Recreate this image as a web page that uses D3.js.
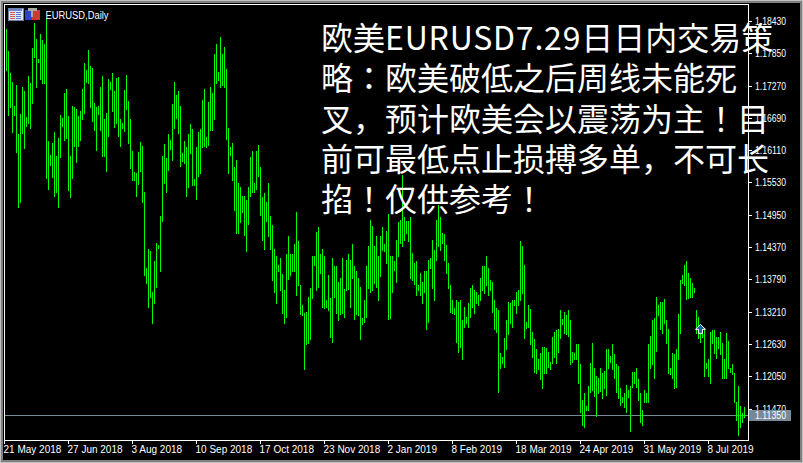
<!DOCTYPE html>
<html><head><meta charset="utf-8">
<style>
body { margin: 0; background: #c0c0c0; }
svg { display: block; }
.bar { fill: #00ff00; }
.lbl { fill: #fff; font-family: "Liberation Sans", Arial, sans-serif; font-size: 10px; }
</style>
<script src="https://cdn.jsdelivr.net/npm/d3@7/dist/d3.min.js"></script>
</head><body>
<div id="chart"></div>
<script>
// daily highs / lows, EURUSD, one entry per bar starting 21 May 2018
var highs = [
  1.1832,1.1830,1.1790,1.1751,1.1735,1.1692,1.1729,1.1641,1.1677,1.1726, // 0
  1.1719,1.1672,1.1746,1.1733,1.1796,1.1841,1.1812,1.1776,1.1821,1.1810, // 10
  1.1803,1.1850,1.1629,1.1604,1.1625,1.1645,1.1602,1.1634,1.1675,1.1670, // 20
  1.1715,1.1722,1.1674,1.1602,1.1692,1.1690,1.1685,1.1674,1.1683,1.1722, // 30
  1.1769,1.1755,1.1792,1.1763,1.1760,1.1697,1.1690,1.1692,1.1726,1.1746, // 40
  1.1667,1.1679,1.1740,1.1735,1.1751,1.1719,1.1742,1.1744,1.1668,1.1661, // 50
  1.1720,1.1747,1.1701,1.1668,1.1611,1.1573,1.1571,1.1609,1.1627,1.1620, // 60
  1.1537,1.1401,1.1435,1.1431,1.1358,1.1412,1.1446,1.1442,1.1494,1.1602, // 70
  1.1623,1.1598,1.1641,1.1631,1.1695,1.1735,1.1711,1.1719,1.1692,1.1606, // 80
  1.1629,1.1618,1.1641,1.1659,1.1650,1.1561,1.1618,1.1645,1.1650,1.1702, // 90
  1.1722,1.1636,1.1699,1.1726,1.1715,1.1785,1.1803,1.1753,1.1816,1.1785, // 100
  1.1798,1.1758,1.1652,1.1618,1.1625,1.1582,1.1595,1.1553,1.1545,1.1530, // 110
  1.1530,1.1523,1.1546,1.1600,1.1611,1.1553,1.1611,1.1622,1.1582,1.1528, // 120
  1.1535,1.1519,1.1553,1.1494,1.1478,1.1435,1.1422,1.1406,1.1419,1.1390, // 130
  1.1361,1.1426,1.1458,1.1426,1.1426,1.1444,1.1501,1.1449,1.1370,1.1333, // 140
  1.1320,1.1322,1.1349,1.1365,1.1422,1.1422,1.1465,1.1474,1.1426,1.1435, // 150
  1.1422,1.1343,1.1387,1.1347,1.1419,1.1403,1.1403,1.1376,1.1383,1.1419, // 160
  1.1363,1.1415,1.1426,1.1415,1.1444,1.1403,1.1395,1.1383,1.1367,1.1311, // 170
  1.1343,1.1403,1.1440,1.1487,1.1476,1.1439,1.1457,1.1421,1.1457,1.1474, // 180
  1.1444,1.1467,1.1498,1.1421,1.1421,1.1413,1.1451,1.1483,1.1487,1.1568, // 190
  1.1491,1.1485,1.1485,1.1492,1.1428,1.1410,1.1412,1.1370,1.1392,1.1376, // 200
  1.1394,1.1394,1.1415,1.1419,1.1451,1.1433,1.1487,1.1514,1.1491,1.1464, // 210
  1.1462,1.1442,1.1410,1.1369,1.1343,1.1329,1.1343,1.1340,1.1343,1.1307, // 220
  1.1331,1.1313,1.1338,1.1365,1.1370,1.1361,1.1358,1.1352,1.1383,1.1404, // 230
  1.1404,1.1421,1.1401,1.1379,1.1376,1.1343,1.1329,1.1325,1.1248,1.1241, // 240
  1.1275,1.1307,1.1340,1.1338,1.1343,1.1343,1.1358,1.1360,1.1449,1.1439, // 250
  1.1406,1.1304,1.1333,1.1327,1.1286,1.1272,1.1254,1.1236,1.1248,1.1259, // 260
  1.1259,1.1257,1.1250,1.1232,1.1277,1.1286,1.1288,1.1290,1.1325,1.1309, // 270
  1.1322,1.1316,1.1325,1.1306,1.1250,1.1248,1.1264,1.1263,1.1227,1.1164, // 280
  1.1176,1.1153,1.1189,1.1230,1.1266,1.1221,1.1207,1.1202,1.1221,1.1212, // 290
  1.1216,1.1254,1.1255,1.1243,1.1264,1.1246,1.1227,1.1225,1.1185,1.1169, // 300
  1.1176,1.1191,1.1182,1.1189,1.1214,1.1214,1.1220,1.1200,1.1175,1.1146, // 310
  1.1182,1.1176,1.1264,1.1279,1.1307,1.1311,1.1349,1.1333,1.1340,1.1340, // 320
  1.1345,1.1306,1.1291,1.1220,1.1248,1.1245,1.1255,1.1318,1.1379,1.1387, // 330
  1.1406,1.1413,1.1392,1.1383,1.1374,1.1365,1.1324,1.1313,1.1295,1.1288, // 340
  1.1288,1.1230,1.1236,1.1286,1.1288,1.1288,1.1277,1.1277,1.1286,1.1266, // 350
  1.1236,1.1284,1.1270,1.1221,1.1227,1.1211,1.1159,1.1189,1.1153,1.1139, // 360
  1.1150                                                                 // 370
];
var lows = [
  1.1774,1.1756,1.1675,1.1690,1.1645,1.1675,1.1609,1.1510,1.1519,1.1643,
  1.1616,1.1656,1.1661,1.1652,1.1697,1.1780,1.1726,1.1771,1.1740,1.1733,
  1.1733,1.1562,1.1543,1.1586,1.1564,1.1530,1.1536,1.1509,1.1600,1.1656,
  1.1631,1.1634,1.1541,1.1527,1.1562,1.1620,1.1591,1.1620,1.1631,1.1668,
  1.1679,1.1735,1.1733,1.1690,1.1665,1.1649,1.1613,1.1677,1.1649,1.1602,
  1.1602,1.1575,1.1638,1.1722,1.1683,1.1654,1.1661,1.1638,1.1620,1.1652,
  1.1647,1.1685,1.1625,1.1580,1.1559,1.1559,1.1530,1.1552,1.1575,1.1519,
  1.1388,1.1374,1.1331,1.1349,1.1302,1.1338,1.1367,1.1437,1.1394,1.1485,
  1.1553,1.1536,1.1577,1.1614,1.1595,1.1652,1.1670,1.1643,1.1584,1.1593,
  1.1589,1.1530,1.1545,1.1607,1.1550,1.1550,1.1525,1.1566,1.1571,1.1618,
  1.1620,1.1618,1.1622,1.1649,1.1649,1.1668,1.1733,1.1738,1.1726,1.1729,
  1.1726,1.1632,1.1570,1.1604,1.1559,1.1505,1.1464,1.1464,1.1483,1.1500,
  1.1460,1.1431,1.1480,1.1530,1.1536,1.1536,1.1543,1.1566,1.1496,1.1451,
  1.1435,1.1485,1.1457,1.1435,1.1379,1.1358,1.1338,1.1395,1.1361,1.1320,
  1.1302,1.1313,1.1381,1.1387,1.1395,1.1395,1.1352,1.1370,1.1317,1.1315,
  1.1218,1.1263,1.1266,1.1272,1.1347,1.1406,1.1361,1.1367,1.1392,1.1331,
  1.1329,1.1331,1.1325,1.1277,1.1268,1.1349,1.1320,1.1306,1.1317,1.1320,
  1.1313,1.1361,1.1363,1.1331,1.1383,1.1308,1.1317,1.1315,1.1272,1.1299,
  1.1304,1.1313,1.1365,1.1358,1.1361,1.1374,1.1367,1.1343,1.1385,1.1433,
  1.1430,1.1410,1.1309,1.1311,1.1358,1.1397,1.1376,1.1421,1.1446,1.1439,
  1.1451,1.1464,1.1448,1.1383,1.1379,1.1372,1.1352,1.1361,1.1352,1.1338,
  1.1358,1.1290,1.1304,1.1401,1.1365,1.1343,1.1415,1.1439,1.1433,1.1446,
  1.1415,1.1392,1.1365,1.1322,1.1320,1.1317,1.1268,1.1250,1.1259,1.1236,
  1.1295,1.1302,1.1295,1.1313,1.1331,1.1320,1.1338,1.1334,1.1343,1.1361,
  1.1356,1.1370,1.1352,1.1361,1.1322,1.1290,1.1286,1.1178,1.1221,1.1230,
  1.1223,1.1254,1.1281,1.1302,1.1295,1.1333,1.1320,1.1334,1.1343,1.1356,
  1.1275,1.1293,1.1295,1.1263,1.1241,1.1214,1.1212,1.1218,1.1200,1.1184,
  1.1212,1.1212,1.1223,1.1218,1.1230,1.1241,1.1230,1.1250,1.1275,1.1299,
  1.1284,1.1281,1.1279,1.1227,1.1232,1.1237,1.1236,1.1194,1.1141,1.1119,
  1.1115,1.1146,1.1146,1.1178,1.1182,1.1171,1.1135,1.1176,1.1180,1.1167,
  1.1184,1.1173,1.1220,1.1232,1.1218,1.1202,1.1178,1.1166,1.1155,1.1160,
  1.1151,1.1142,1.1169,1.1108,1.1187,1.1194,1.1187,1.1164,1.1124,1.1119,
  1.1160,1.1160,1.1160,1.1220,1.1227,1.1203,1.1252,1.1315,1.1291,1.1284,
  1.1302,1.1266,1.1212,1.1209,1.1203,1.1184,1.1187,1.1236,1.1284,1.1374,
  1.1370,1.1345,1.1347,1.1349,1.1349,1.1358,1.1284,1.1275,1.1268,1.1277,
  1.1207,1.1221,1.1207,1.1194,1.1266,1.1248,1.1239,1.1257,1.1246,1.1203,
  1.1202,1.1203,1.1221,1.1214,1.1209,1.1159,1.1128,1.1101,1.1114,1.1124,
  1.1132
];

var priceTicks = [1.18430, 1.17850, 1.17270, 1.16690, 1.16110, 1.15530, 1.14950,
                  1.14370, 1.13790, 1.13210, 1.12630, 1.12050, 1.11470];
var dateTicks = ["21 May 2018", "27 Jun 2018", "3 Aug 2018", "10 Sep 2018", "17 Oct 2018",
                 "23 Nov 2018", "2 Jan 2019", "8 Feb 2019", "18 Mar 2019", "24 Apr 2019",
                 "31 May 2019", "8 Jul 2019"];
var holidays = ["2018-12-25", "2019-01-01"]; // no bars on these days
var bidPrice = 1.11350;
var buyArrow = {bar: 348, price: 1.1290};
var noteLines = ["欧美EURUSD7.29日日内交易策",
                 "略：欧美破低之后周线未能死",
                 "叉，预计欧美会以震荡为主！目",
                 "前可最低点止损搏多单，不可长",
                 "掐！仅供参考！"];

// bar dates: broker has Sunday bars, so every day but Saturday
var fmt = d3.timeFormat("%-d %b %Y"), key = d3.timeFormat("%Y-%m-%d");
var dates = [];
for (var d = new Date(2018, 4, 21); dates.length < highs.length; d = d3.timeDay.offset(d, 1)) {
  if (d.getDay() == 6 || holidays.indexOf(key(d)) >= 0) continue;
  dates.push(d);
}

var width = 803, height = 463;
var plot = {left: 4, top: 4, right: 748, bottom: 440};

var x = d3.scaleLinear().domain([0, highs.length - 1]).range([4, 744]);
var y = d3.scaleLinear().domain([priceTicks[0], priceTicks[priceTicks.length - 1]]).range([21.5, 409]);

var svg = d3.select("#chart").append("svg")
    .attr("width", width).attr("height", height)
    .attr("shape-rendering", "crispEdges");

// window edge + black chart background
svg.append("rect").attr("x", 1).attr("y", 1).attr("width", width - 2).attr("height", height - 2).attr("fill", "#808080");
svg.append("rect").attr("x", 3).attr("y", 3).attr("width", width - 6).attr("height", height - 6).attr("fill", "#000");

svg.append("clipPath").attr("id", "clip").append("rect")
    .attr("x", plot.left + 1).attr("y", plot.top + 1)
    .attr("width", plot.right - plot.left - 1).attr("height", plot.bottom - plot.top - 1);

var g = svg.append("g").attr("clip-path", "url(#clip)");

// bid line
g.append("line")
    .attr("x1", plot.left).attr("x2", plot.right)
    .attr("y1", Math.round(y(bidPrice)) - 0.5).attr("y2", Math.round(y(bidPrice)) - 0.5)
    .attr("stroke", "#778899");

// bars (at this zoom MT4 draws just the high-low line)
g.selectAll(".bar")
  .data(highs)
  .enter().append("rect")
    .attr("class", "bar")
    .attr("x", function(d, i) { return x(i); })
    .attr("y", function(d) { return Math.round(y(d)); })
    .attr("width", 1)
    .attr("height", function(d, i) { return Math.max(1, Math.round(y(lows[i])) - Math.round(y(d)) + 1); });

// frame
svg.append("rect")
    .attr("x", plot.left + 0.5).attr("y", plot.top + 0.5)
    .attr("width", plot.right - plot.left).attr("height", plot.bottom - plot.top)
    .attr("fill", "none").attr("stroke", "#fff");

// price axis
var pa = svg.append("g");
pa.selectAll("line")
  .data(priceTicks)
  .enter().append("line")
    .attr("x1", plot.right).attr("x2", plot.right + 4)
    .attr("y1", function(d) { return Math.floor(y(d)) + 0.5; })
    .attr("y2", function(d) { return Math.floor(y(d)) + 0.5; })
    .attr("stroke", "#fff");
pa.selectAll("text")
  .data(priceTicks)
  .enter().append("text")
    .attr("class", "lbl")
    .attr("x", plot.right + 7)
    .attr("y", function(d) { return Math.floor(y(d)) + 4; })
    .attr("textLength", 31).attr("lengthAdjust", "spacingAndGlyphs")
    .text(function(d) { return d.toFixed(5); });

// time axis
var ta = svg.append("g");
var tickIdx = dateTicks.map(function(s) { return dates.findIndex(function(d) { return fmt(d) == s; }); });
ta.selectAll("line")
  .data(tickIdx)
  .enter().append("line")
    .attr("x1", function(d) { return x(d) + 0.5; })
    .attr("x2", function(d) { return x(d) + 0.5; })
    .attr("y1", plot.bottom).attr("y2", plot.bottom + 4)
    .attr("stroke", "#fff");
ta.selectAll("text")
  .data(dateTicks)
  .enter().append("text")
    .attr("class", "lbl")
    .attr("x", function(d, i) { return x(tickIdx[i]) - 0.5; })
    .attr("y", plot.bottom + 13)
    .attr("font-size", "9.5px")
    .text(function(d) { return d; });

// bid price box on the axis
var by = Math.round(y(bidPrice)) - 1;
svg.append("rect")
    .attr("x", plot.right + 1).attr("y", by - 5)
    .attr("width", 42).attr("height", 11)
    .attr("fill", "#778899");
svg.append("text")
    .attr("class", "lbl")
    .attr("x", plot.right + 7).attr("y", by + 4)
    .attr("textLength", 31).attr("lengthAdjust", "spacingAndGlyphs")
    .text(bidPrice.toFixed(5));

// buy arrow
var ax = x(buyArrow.bar) + 0.5, ay = y(buyArrow.price);
svg.append("path")
    .attr("d", "M" + ax + "," + (ay - 5) + " L" + (ax + 5) + "," + (ay) + " L" + (ax + 2) + "," + ay +
               " L" + (ax + 2) + "," + (ay + 4) + " L" + (ax - 2) + "," + (ay + 4) +
               " L" + (ax - 2) + "," + ay + " L" + (ax - 5) + "," + ay + "Z")
    .attr("fill", "#1f5fa8").attr("stroke", "#fff").attr("shape-rendering", "auto");

// title with the two toolbar icons
var ic = svg.append("g");
ic.append("rect").attr("x", 8).attr("y", 8).attr("width", 15).attr("height", 12).attr("fill", "#dfe4f2").attr("stroke", "#7080a8");
ic.append("rect").attr("x", 9).attr("y", 9).attr("width", 13).attr("height", 2).attr("fill", "#6f86c8");
[12, 14, 16, 18].forEach(function(r) {
  ic.append("rect").attr("x", 10).attr("y", r).attr("width", 5).attr("height", 1).attr("fill", "#e05a4a");
  ic.append("rect").attr("x", 16).attr("y", r).attr("width", 5).attr("height", 1).attr("fill", "#5a78d8");
});
ic.append("rect").attr("x", 25).attr("y", 10).attr("width", 7).attr("height", 10).attr("fill", "#2a46c8");
ic.append("rect").attr("x", 32).attr("y", 10).attr("width", 8).attr("height", 10).attr("fill", "#c83a32");
ic.append("rect").attr("x", 28).attr("y", 8).attr("width", 9).attr("height", 3).attr("fill", "#a8a8a8");
ic.append("rect").attr("x", 31).attr("y", 11).attr("width", 2).attr("height", 6).attr("fill", "#a8a8a8");
svg.append("text")
    .attr("class", "lbl")
    .attr("x", 45.5).attr("y", 19)
    .attr("textLength", 63).attr("lengthAdjust", "spacingAndGlyphs")
    .text("EURUSD,Daily");

// comment text over the chart (JP forms centre the colon and "!" like the original)
var note = svg.append("g")
    .attr("font-family", '"Noto Sans CJK JP", "Noto Sans CJK SC", sans-serif')
    .attr("font-size", 32)
    .attr("fill", "#fff")
  .selectAll("text")
  .data(noteLines)
  .enter().append("text")
    .attr("x", 321)
    .attr("y", function(d, i) { return 50 + i * 40.3; });
note.selectAll("tspan")
  .data(function(d) { return d.split(/([A-Za-z0-9.]+)/).filter(function(s) { return s.length; }); })
  .enter().append("tspan")
    .attr("letter-spacing", function(s) { return /^[A-Za-z0-9.]+$/.test(s) ? 0.8 : null; })
    .text(function(s) { return s; });
</script>
</body></html>
